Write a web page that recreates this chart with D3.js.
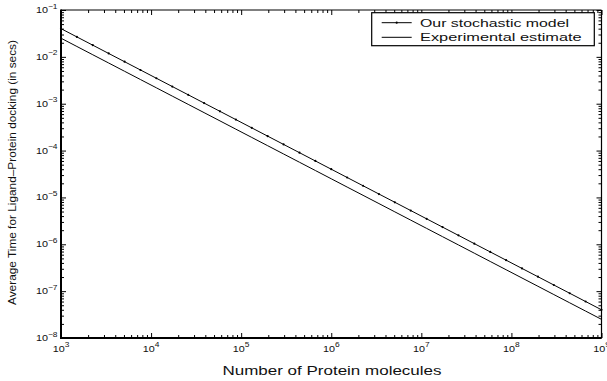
<!DOCTYPE html>
<html>
<head>
<meta charset="utf-8">
<script src="https://cdn.jsdelivr.net/npm/d3@7"></script>
<style>
  body { margin: 0; background: #fff; }
  svg { display: block; font-family: "Liberation Sans", Arial, Helvetica, sans-serif; }
</style>
</head>
<body>
<script>
// Number of protein molecules (log spaced sample points)
const proteins = [
  1.000e3, 1.501e3, 2.254e3, 3.384e3, 5.080e3, 7.627e3, 1.145e4, 1.719e4, 2.581e4,
  3.875e4, 5.817e4, 8.734e4, 1.311e5, 1.969e5, 2.956e5, 4.437e5, 6.661e5, 1.000e6,
  1.501e6, 2.254e6, 3.384e6, 5.080e6, 7.627e6, 1.145e7, 1.719e7, 2.581e7,
  3.875e7, 5.817e7, 8.734e7, 1.311e8, 1.969e8, 2.956e8, 4.437e8, 6.661e8, 1.000e9
];
// Our stochastic model (secs)
const stochastic = [
  4.000e-2, 2.664e-2, 1.775e-2, 1.182e-2, 7.874e-3, 5.245e-3, 3.493e-3, 2.327e-3, 1.550e-3,
  1.032e-3, 6.876e-4, 4.580e-4, 3.051e-4, 2.031e-4, 1.353e-4, 9.015e-5, 6.005e-5, 4.000e-5,
  2.664e-5, 1.775e-5, 1.182e-5, 7.874e-6, 5.245e-6, 3.493e-6, 2.327e-6, 1.550e-6,
  1.032e-6, 6.876e-7, 4.580e-7, 3.051e-7, 2.031e-7, 1.353e-7, 9.015e-8, 6.005e-8, 4.000e-8
];
// Experimental estimate (secs)
const experimental = [
  2.500e-2, 1.665e-2, 1.109e-2, 7.388e-3, 4.921e-3, 3.278e-3, 2.183e-3, 1.454e-3, 9.686e-4,
  6.452e-4, 4.298e-4, 2.862e-4, 1.907e-4, 1.270e-4, 8.457e-5, 5.634e-5, 3.753e-5, 2.500e-5,
  1.665e-5, 1.109e-5, 7.388e-6, 4.921e-6, 3.278e-6, 2.183e-6, 1.454e-6, 9.686e-7,
  6.452e-7, 4.298e-7, 2.862e-7, 1.907e-7, 1.270e-7, 8.457e-8, 5.634e-8, 3.753e-8, 2.500e-8
];
const xExponents = [3, 4, 5, 6, 7, 8, 9];
const yExponents = [-1, -2, -3, -4, -5, -6, -7, -8];
const seriesNames = ["Our stochastic model", "Experimental estimate"];

const W = 607, H = 381;
const plot = {left: 61, right: 601.5, top: 10, bottom: 338};

const svg = d3.select("body").append("svg")
    .attr("width", W)
    .attr("height", H);

const x = d3.scaleLog().domain([1e3, 1e9]).range([plot.left, plot.right]);
const y = d3.scaleLog().domain([1e-8, 1e-1]).range([plot.bottom, plot.top]);

const majorX = xExponents.map(e => Math.pow(10, e));
const majorY = yExponents.map(e => Math.pow(10, e));
const minorX = x.ticks().filter(v => !majorX.some(m => Math.abs(m - v) / m < 1e-9));
const minorY = y.ticks().filter(v => !majorY.some(m => Math.abs(m - v) / m < 1e-9));

// ticks, pointing inward on all four sides
function ticks(axis, tx, ty, values, size) {
    const g = svg.append("g")
        .attr("transform", "translate(" + tx + "," + ty + ")")
        .call(axis.tickValues(values).tickSize(-size).tickSizeOuter(0).tickFormat(""));
    g.select(".domain").remove();
    g.selectAll("line").attr("stroke", "#000").attr("stroke-width", 1);
}
ticks(d3.axisBottom(x), 0, plot.bottom, majorX, 5);
ticks(d3.axisBottom(x), 0, plot.bottom, minorX, 3);
ticks(d3.axisTop(x), 0, plot.top, majorX, 5);
ticks(d3.axisTop(x), 0, plot.top, minorX, 3);
ticks(d3.axisLeft(y), plot.left, 0, majorY, 5);
ticks(d3.axisLeft(y), plot.left, 0, minorY, 3);
ticks(d3.axisRight(y), plot.right, 0, majorY, 5);
ticks(d3.axisRight(y), plot.right, 0, minorY, 3);

// frame
svg.append("line").attr("x1", plot.left).attr("x2", plot.right).attr("y1", plot.top).attr("y2", plot.top)
    .attr("stroke", "#000").attr("stroke-width", 1);
svg.append("line").attr("x1", plot.right).attr("x2", plot.right).attr("y1", plot.top).attr("y2", plot.bottom)
    .attr("stroke", "#000").attr("stroke-width", 1.2);
svg.append("line").attr("x1", plot.left).attr("x2", plot.right).attr("y1", plot.bottom).attr("y2", plot.bottom)
    .attr("stroke", "#000").attr("stroke-width", 2);
svg.append("line").attr("x1", plot.left).attr("x2", plot.left).attr("y1", plot.top - 0.5).attr("y2", plot.bottom + 1)
    .attr("stroke", "#000").attr("stroke-width", 2);

// tick labels as 10^n
function powerLabel(px, py, exp, anchor) {
    const t = svg.append("text")
        .attr("transform", "translate(" + px + "," + py + ") scale(1.2,1)")
        .attr("text-anchor", anchor)
        .attr("fill", "#111");
    t.append("tspan").attr("font-size", 9).text("10");
    t.append("tspan").attr("font-size", 7).attr("dy", -4.5)
        .text(exp < 0 ? "\u2212" + (-exp) : exp);
}
xExponents.forEach(e => powerLabel(x(Math.pow(10, e)), 351.5, e, "middle"));
yExponents.forEach(e => powerLabel(57.5, y(Math.pow(10, e)) + 3, e, "end"));

// axis titles
svg.append("text")
    .attr("x", 222.5).attr("y", 375.3)
    .attr("font-size", 12.2)
    .attr("textLength", 219).attr("lengthAdjust", "spacingAndGlyphs")
    .attr("fill", "#111")
    .text("Number of Protein molecules");

svg.append("text")
    .attr("transform", "translate(15.5,305) rotate(-90)")
    .attr("font-size", 11)
    .attr("textLength", 265).attr("lengthAdjust", "spacingAndGlyphs")
    .attr("fill", "#111")
    .text("Average Time for Ligand\u2013Protein docking (in secs)");

// series
const line = d3.line()
    .x((d, i) => x(proteins[i]))
    .y(d => y(d));

svg.append("path")
    .datum(experimental)
    .attr("fill", "none")
    .attr("stroke", "#000")
    .attr("stroke-width", 1)
    .attr("d", line);

svg.append("path")
    .datum(stochastic)
    .attr("fill", "none")
    .attr("stroke", "#000")
    .attr("stroke-width", 1)
    .attr("d", line);

svg.selectAll(".dot")
    .data(stochastic)
    .enter().append("circle")
    .attr("cx", (d, i) => x(proteins[i]))
    .attr("cy", d => y(d))
    .attr("r", 1.1)
    .attr("fill", "#000");

// legend
const legend = svg.append("g");
legend.append("rect")
    .attr("x", 371.7).attr("y", 12.7)
    .attr("width", 222.6).attr("height", 33)
    .attr("fill", "#fff")
    .attr("stroke", "#000")
    .attr("stroke-width", 1.2);

const rowY = [22.7, 37.3];
const textLen = [149, 161.7];
seriesNames.forEach((name, i) => {
    legend.append("line")
        .attr("x1", 381.7).attr("x2", 411.7)
        .attr("y1", rowY[i]).attr("y2", rowY[i])
        .attr("stroke", "#000").attr("stroke-width", 1);
    if (i === 0) {
        legend.append("circle")
            .attr("cx", 396.7).attr("cy", rowY[i]).attr("r", 1.1)
            .attr("fill", "#000");
    }
    legend.append("text")
        .attr("x", 420).attr("y", rowY[i] + 4)
        .attr("font-size", 11.2)
        .attr("textLength", textLen[i]).attr("lengthAdjust", "spacingAndGlyphs")
        .attr("fill", "#111")
        .text(name);
});
</script>
</body>
</html>
